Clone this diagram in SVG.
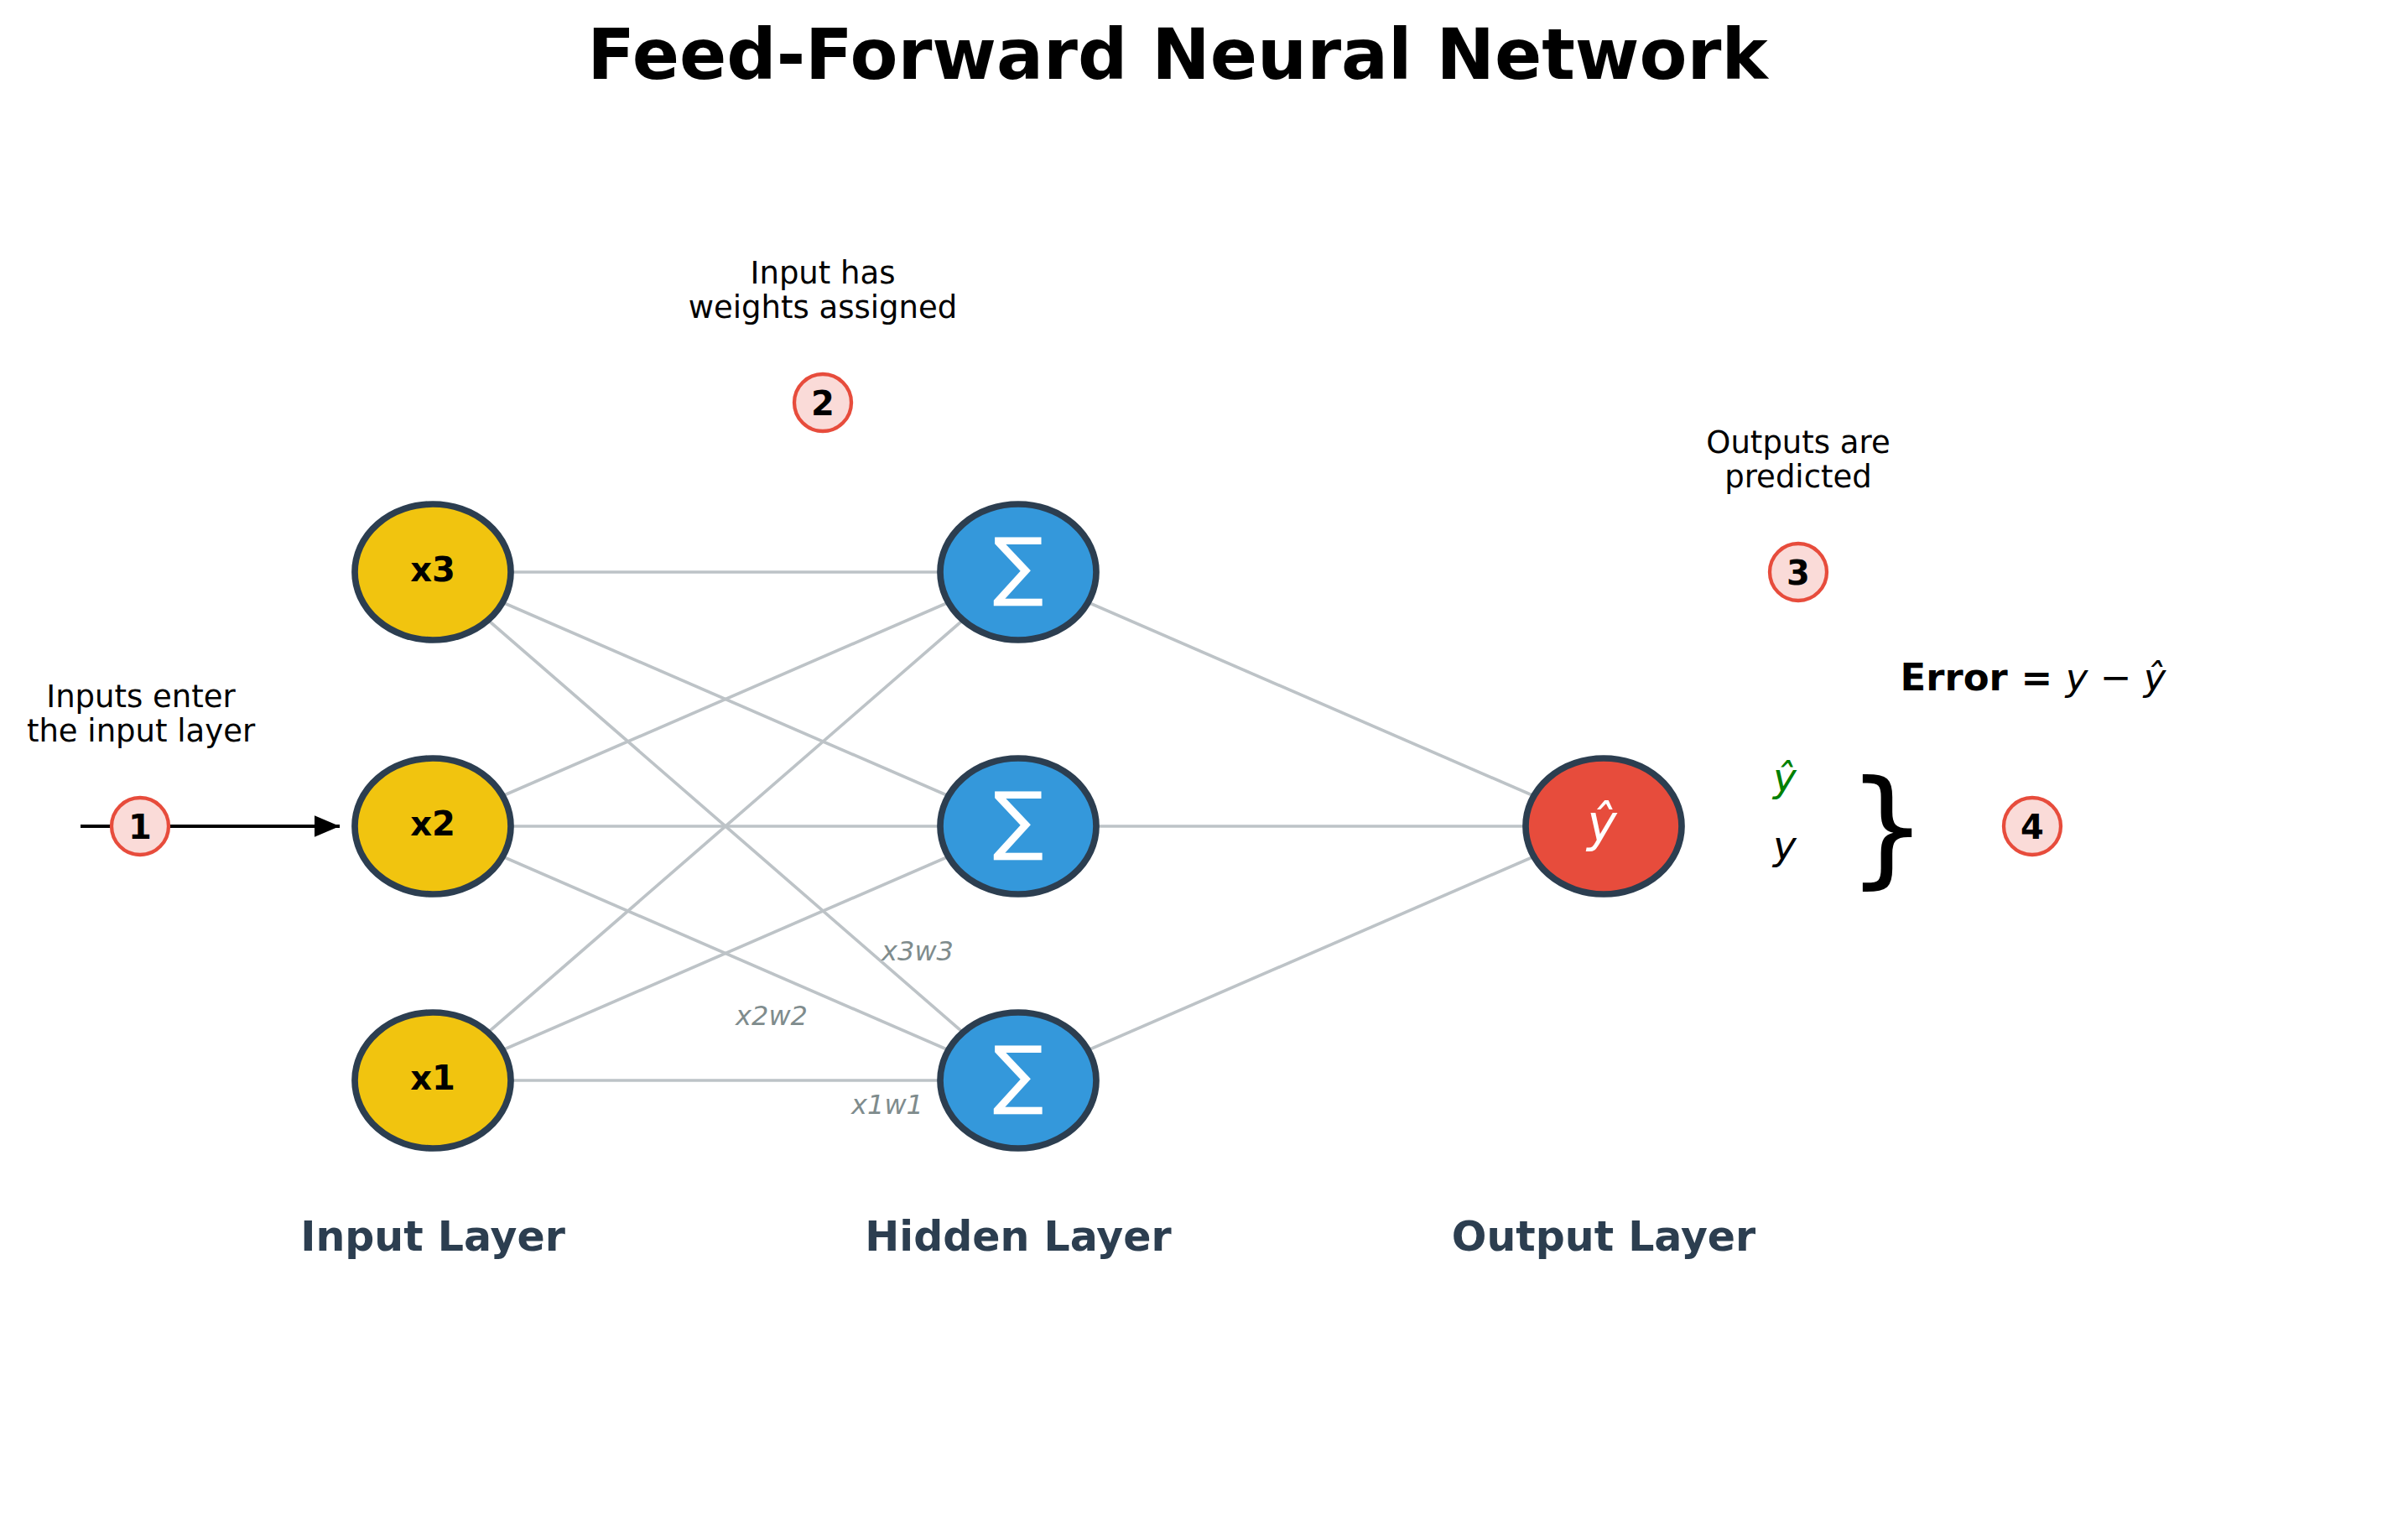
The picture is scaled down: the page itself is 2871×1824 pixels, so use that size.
<svg xmlns="http://www.w3.org/2000/svg" width="2871" height="1824" viewBox="0 0 2871 1824">
  <style>
    text { font-family: "DejaVu Sans", "Liberation Sans", sans-serif; }
    .title { font-size: 83px; font-weight: bold; fill: #000; text-anchor: middle; }
    .note { font-size: 37px; fill: #000; text-anchor: middle; }
    .step circle { fill: #fadbd8; stroke: #e74c3c; stroke-width: 4.3; }
    .step text { font-size: 40px; font-weight: bold; fill: #000; text-anchor: middle; }
    .node ellipse { stroke: #2c3e50; stroke-width: 7.7; }
    .input ellipse { fill: #f1c40f; }
    .hidden ellipse { fill: #3498db; }
    .output ellipse { fill: #e74c3c; }
    .input text { font-size: 40px; font-weight: bold; fill: #000; text-anchor: middle; }
    .hidden text { font-size: 90px; fill: #fff; text-anchor: middle; }
    .output text { font-size: 60px; font-style: italic; fill: #fff; text-anchor: middle; }
    .edges line { stroke: #bdc3c7; stroke-width: 3.7; }
    .wlabel { font-size: 32px; font-style: italic; fill: #7f8c8d; text-anchor: middle; }
    .layer { font-size: 49px; font-weight: bold; fill: #2c3e50; text-anchor: middle; }
    .math { font-style: italic; font-weight: normal; }
  </style>
  <defs>
    <marker id="arrowhead" markerWidth="8" markerHeight="8" refX="7.5" refY="3.2" orient="auto" markerUnits="strokeWidth">
      <path d="M0,0 L7.5,3.2 L0,6.4 Z" fill="#000"/>
    </marker>
  </defs>

  <rect width="2871" height="1824" fill="#fff"/>

  <text class="title" x="1404" y="94">Feed-Forward Neural Network</text>

  <!-- weighted connections, drawn centre to centre beneath the nodes -->
  <g id="connectors" class="edges">
    <line x1="516" y1="682" x2="1214" y2="682"/>
    <line x1="516" y1="682" x2="1214" y2="985"/>
    <line x1="516" y1="682" x2="1214" y2="1288"/>
    <line x1="516" y1="985" x2="1214" y2="682"/>
    <line x1="516" y1="985" x2="1214" y2="985"/>
    <line x1="516" y1="985" x2="1214" y2="1288"/>
    <line x1="516" y1="1288" x2="1214" y2="682"/>
    <line x1="516" y1="1288" x2="1214" y2="985"/>
    <line x1="516" y1="1288" x2="1214" y2="1288"/>
    <line x1="1214" y1="682" x2="1912" y2="985"/>
    <line x1="1214" y1="985" x2="1912" y2="985"/>
    <line x1="1214" y1="1288" x2="1912" y2="985"/>
    <!-- input arrow -->
    <line x1="96" y1="985" x2="405" y2="985" style="stroke:#000;stroke-width:4" marker-end="url(#arrowhead)"/>
  </g>

  <!-- weight labels -->
  <text class="wlabel" x="1094" y="1145">x3w3</text>
  <text class="wlabel" x="920" y="1222">x2w2</text>
  <text class="wlabel" x="1058" y="1328">x1w1</text>

  <!-- input layer -->
  <g id="node-x3" class="node input">
    <ellipse cx="516" cy="682" rx="93" ry="81"/>
    <text x="516" y="693">x3</text>
  </g>
  <g id="node-x2" class="node input">
    <ellipse cx="516" cy="985" rx="93" ry="81"/>
    <text x="516" y="996">x2</text>
  </g>
  <g id="node-x1" class="node input">
    <ellipse cx="516" cy="1288" rx="93" ry="81"/>
    <text x="516" y="1299">x1</text>
  </g>

  <!-- hidden layer -->
  <g id="node-h1" class="node hidden">
    <ellipse cx="1214" cy="682" rx="93" ry="81"/>
    <text x="1214" y="705">∑</text>
  </g>
  <g id="node-h2" class="node hidden">
    <ellipse cx="1214" cy="985" rx="93" ry="81"/>
    <text x="1214" y="1008">∑</text>
  </g>
  <g id="node-h3" class="node hidden">
    <ellipse cx="1214" cy="1288" rx="93" ry="81"/>
    <text x="1214" y="1311">∑</text>
  </g>

  <!-- output layer -->
  <g id="node-out" class="node output">
    <ellipse cx="1912" cy="985" rx="93" ry="81"/>
    <text x="1910" y="1003">ŷ</text>
  </g>

  <!-- step annotations -->
  <text class="note" x="168" y="843">Inputs enter</text>
  <text class="note" x="168" y="884">the input layer</text>
  <g id="step-1" class="step">
    <circle cx="167" cy="985" r="34"/>
    <text x="167" y="1000">1</text>
  </g>

  <text class="note" x="981" y="338">Input has</text>
  <text class="note" x="981" y="379">weights assigned</text>
  <g id="step-2" class="step">
    <circle cx="981" cy="480" r="34"/>
    <text x="981" y="495">2</text>
  </g>

  <text class="note" x="2144" y="540">Outputs are</text>
  <text class="note" x="2144" y="581">predicted</text>
  <g id="step-3" class="step">
    <circle cx="2144" cy="682" r="34"/>
    <text x="2144" y="697">3</text>
  </g>

  <!-- error comparison -->
  <text x="2424" y="823" style="font-size:45px;font-weight:bold;text-anchor:middle">Error = <tspan class="math">y</tspan><tspan class="math"> − </tspan><tspan class="math">ŷ</tspan></text>
  <text x="2128" y="943" style="font-size:47px;font-style:italic;fill:#008000;text-anchor:middle">ŷ</text>
  <text x="2128" y="1024" style="font-size:47px;font-style:italic;fill:#000;text-anchor:middle">y</text>
  <text x="2250" y="1038" style="font-size:151px;fill:#000;text-anchor:middle">}</text>
  <g id="step-4" class="step">
    <circle cx="2423" cy="985" r="34"/>
    <text x="2423" y="1000">4</text>
  </g>

  <!-- layer captions -->
  <text class="layer" x="516" y="1491">Input Layer</text>
  <text class="layer" x="1214" y="1491">Hidden Layer</text>
  <text class="layer" x="1912" y="1491">Output Layer</text>
</svg>
